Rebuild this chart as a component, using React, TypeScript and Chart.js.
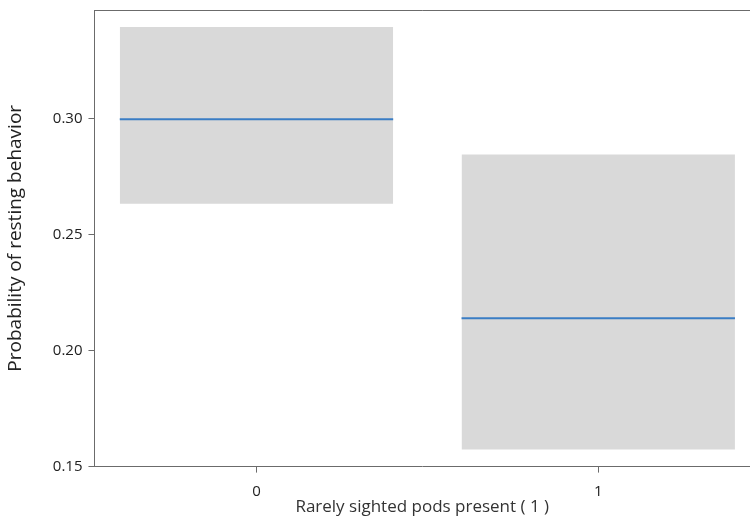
import React, { useEffect, useRef } from "react";
import { Chart, registerables } from "chart.js";
Chart.register(...registerables);

const categories = [0, 1];
const tickLabels = ["0", "1"];
const yTicks = [0.15, 0.2, 0.25, 0.3];
const estimates = [0.2996, 0.2139];
const lowerCI = [0.2632, 0.1574];
const upperCI = [0.3394, 0.2844];
const halfWidth = 0.4;

const topBorder = {
  id: "topBorder",
  afterDraw(chart: any) {
    const { ctx, chartArea } = chart;
    ctx.save();
    ctx.strokeStyle = "#6b6b6b";
    ctx.lineWidth = 1;
    ctx.beginPath();
    ctx.moveTo(chartArea.left, chartArea.top + 0.5);
    ctx.lineTo(chartArea.right, chartArea.top + 0.5);
    ctx.stroke();
    ctx.restore();
  },
};

export default function App() {
  const ref = useRef<HTMLCanvasElement>(null);
  useEffect(() => {
    document.body.style.margin = "0";
    const datasets: any[] = [];
    categories.forEach((c, i) => {
      datasets.push({
        data: [
          { x: c - halfWidth, y: upperCI[i] },
          { x: c + halfWidth, y: upperCI[i] },
        ],
        borderWidth: 0,
        borderColor: "rgba(0,0,0,0)",
        backgroundColor: "#d9d9d9",
        pointRadius: 0,
        fill: "+1",
        order: 2,
      });
      datasets.push({
        data: [
          { x: c - halfWidth, y: lowerCI[i] },
          { x: c + halfWidth, y: lowerCI[i] },
        ],
        borderWidth: 0,
        borderColor: "rgba(0,0,0,0)",
        pointRadius: 0,
        fill: false,
        order: 2,
      });
    });
    categories.forEach((c, i) => {
      datasets.push({
        data: [
          { x: c - halfWidth, y: estimates[i] },
          { x: c + halfWidth, y: estimates[i] },
        ],
        borderWidth: 2,
        borderColor: "#3a7dc4",
        pointRadius: 0,
        fill: false,
        order: 0,
      });
    });
    const chart = new Chart(ref.current!, {
      type: "line",
      data: { datasets },
      plugins: [topBorder],
      options: {
        responsive: false,
        animation: false,
        layout: { padding: { top: 10, right: 0, left: 4, bottom: 0 } },
        plugins: {
          legend: { display: false },
          tooltip: { enabled: false },
          filler: { drawTime: "beforeDatasetsDraw" },
        },
        scales: {
          x: {
            type: "linear",
            min: -0.474,
            max: 1.444,
            afterBuildTicks: (axis: any) => {
              axis.ticks = categories.map((v) => ({ value: v }));
            },
            ticks: {
              callback: (v: any) => tickLabels[categories.indexOf(Number(v))] ?? "",
              color: "#222",
              font: { family: "Open Sans", size: 15 },
              padding: 10,
              maxRotation: 0,
            },
            grid: { drawOnChartArea: false, drawTicks: true, tickLength: 6, color: "#6b6b6b" },
            border: { display: true, color: "#6b6b6b" },
            title: {
              display: true,
              text: "Rarely sighted pods present ( 1 )",
              color: "#333",
              font: { family: "Open Sans", size: 17 },
              padding: { top: -14, bottom: 0 },
            },
          },
          y: {
            type: "linear",
            min: 0.15,
            max: 0.3467,
            afterBuildTicks: (axis: any) => {
              axis.ticks = yTicks.map((v) => ({ value: v }));
            },
            afterFit: (axis: any) => {
              axis.paddingTop = 0;
              axis.paddingBottom = 0;
            },
            ticks: {
              callback: (v: any) => Number(v).toFixed(2),
              color: "#222",
              font: { family: "Open Sans", size: 15 },
              padding: 6,
            },
            grid: { drawOnChartArea: false, drawTicks: true, tickLength: 6, color: "#6b6b6b" },
            border: { display: true, color: "#6b6b6b" },
            title: {
              display: true,
              text: "Probability of resting behavior",
              color: "#222",
              font: { family: "Open Sans", size: 19 },
              padding: { top: 0, bottom: 20 },
            },
          },
        },
      },
    } as any);
    return () => chart.destroy();
  }, []);
  return <canvas ref={ref} width={750} height={517} style={{ display: "block" }} />;
}
